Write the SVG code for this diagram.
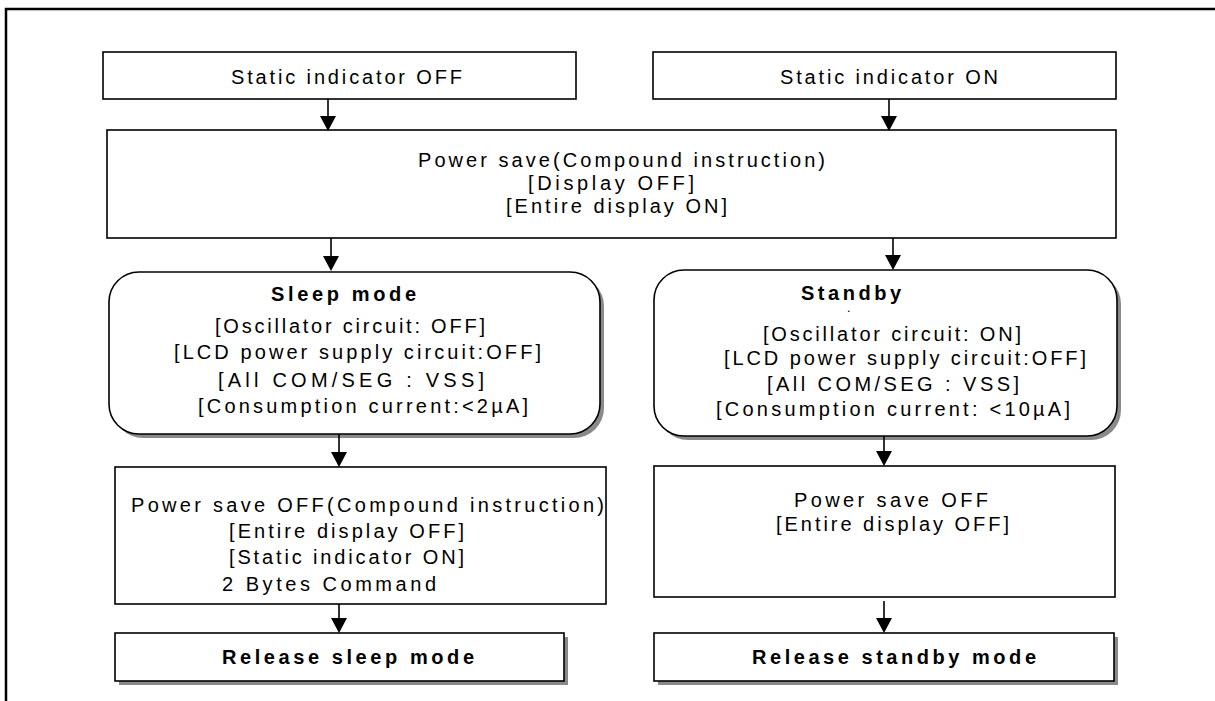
<svg xmlns="http://www.w3.org/2000/svg" width="1215" height="701" viewBox="0 0 1215 701">
<style>
.box{fill:#fff;stroke:#000;stroke-width:1.6}
.sh{fill:#8a8a8a;stroke:none}
.t{font-family:"Liberation Sans",Arial,sans-serif;font-size:20px;fill:#000}
.b{font-weight:bold}
.dot{font-family:"Liberation Sans",Arial,sans-serif;font-size:9px;font-weight:bold;fill:#000}
.c{stroke:#000;stroke-width:1.6;fill:none;marker-end:url(#ah)}
.frame{stroke:#000;stroke-width:2.5;fill:none}
</style>
<defs>
<marker id="ah" markerUnits="userSpaceOnUse" markerWidth="16" markerHeight="16" viewBox="0 0 15 16" refX="11" refY="8" orient="auto">
<path d="M0,0 L15,8 L0,16 Z" fill="#000"/>
</marker>
</defs>
<rect width="1215" height="701" fill="#fff"/>
<path class="frame" d="M6,701 L6,9 L1215,9"/>

<g id="static-off">
<rect class="box" x="103" y="52" width="473" height="47"/>
<text class="t" x="231" y="84" textLength="231" lengthAdjust="spacing">Static indicator OFF</text>
</g>
<g id="static-on">
<rect class="box" x="653" y="52" width="463" height="47"/>
<text class="t" x="780" y="84" textLength="218" lengthAdjust="spacing">Static indicator ON</text>
</g>
<g id="power-save">
<rect class="box" x="107" y="130" width="1009" height="108"/>
<text class="t" x="418" y="167" textLength="407" lengthAdjust="spacing">Power save(Compound instruction)</text>
<text class="t" x="528" y="190" textLength="166" lengthAdjust="spacing">[Display OFF]</text>
<text class="t" x="506" y="213" textLength="221" lengthAdjust="spacing">[Entire display ON]</text>
</g>
<g id="sleep-mode">
<rect class="sh" x="113" y="276" width="491" height="162" rx="30" ry="30"/>
<rect class="box" x="109" y="272" width="491" height="162" rx="30" ry="30"/>
<text class="t b" x="271" y="301" textLength="145" lengthAdjust="spacing">Sleep mode</text>
<text class="t" x="215" y="333" textLength="270" lengthAdjust="spacing">[Oscillator circuit: OFF]</text>
<text class="t" x="174" y="359" textLength="367" lengthAdjust="spacing">[LCD power supply circuit:OFF]</text>
<text class="t" x="218" y="387" textLength="266" lengthAdjust="spacing">[All COM/SEG : VSS]</text>
<text class="t" x="198" y="413" textLength="330" lengthAdjust="spacing">[Consumption current:&lt;2µA]</text>
</g>
<g id="standby">
<rect class="sh" x="658" y="274" width="463" height="166" rx="30" ry="30"/>
<rect class="box" x="654" y="270" width="463" height="166" rx="30" ry="30"/>
<text class="t b" x="801" y="300" textLength="100" lengthAdjust="spacing">Standby</text>
<text class="dot" x="847.5" y="312">.</text>
<text class="t" x="763" y="341" textLength="258" lengthAdjust="spacing">[Oscillator circuit: ON]</text>
<text class="t" x="724" y="365" textLength="362" lengthAdjust="spacing">[LCD power supply circuit:OFF]</text>
<text class="t" x="767" y="391" textLength="252" lengthAdjust="spacing">[All COM/SEG : VSS]</text>
<text class="t" x="716" y="416" textLength="354" lengthAdjust="spacing">[Consumption current: &lt;10µA]</text>
</g>
<g id="power-save-off-left">
<rect class="box" x="115" y="467" width="491" height="137"/>
<text class="t" x="131" y="512" textLength="473" lengthAdjust="spacing">Power save OFF(Compound instruction)</text>
<text class="t" x="229" y="538" textLength="235" lengthAdjust="spacing">[Entire display OFF]</text>
<text class="t" x="229" y="564" textLength="235" lengthAdjust="spacing">[Static indicator ON]</text>
<text class="t" x="222" y="591" textLength="214" lengthAdjust="spacing">2 Bytes Command</text>
</g>
<g id="power-save-off-right">
<rect class="box" x="654" y="466" width="461" height="131"/>
<text class="t" x="794" y="507" textLength="194" lengthAdjust="spacing">Power save OFF</text>
<text class="t" x="776" y="531" textLength="233" lengthAdjust="spacing">[Entire display OFF]</text>
</g>
<g id="release-sleep">
<rect class="sh" x="119" y="637" width="449" height="48"/>
<rect class="box" x="115" y="633" width="449" height="48"/>
<text class="t b" x="222" y="664" textLength="252" lengthAdjust="spacing">Release sleep mode</text>
</g>
<g id="release-standby">
<rect class="sh" x="658" y="637" width="460" height="48"/>
<rect class="box" x="654" y="633" width="460" height="48"/>
<text class="t b" x="752" y="664" textLength="284" lengthAdjust="spacing">Release standby mode</text>
</g>
<g id="connectors">
<line class="c" x1="328" y1="99" x2="328" y2="127"/>
<line class="c" x1="889" y1="99" x2="889" y2="127"/>
<line class="c" x1="331" y1="238" x2="331" y2="267"/>
<line class="c" x1="893" y1="238" x2="893" y2="266"/>
<line class="c" x1="339" y1="434" x2="339" y2="463"/>
<line class="c" x1="884" y1="436" x2="884" y2="462"/>
<line class="c" x1="339" y1="604" x2="339" y2="629"/>
<line class="c" x1="884" y1="601" x2="884" y2="629"/>
</g>
</svg>
